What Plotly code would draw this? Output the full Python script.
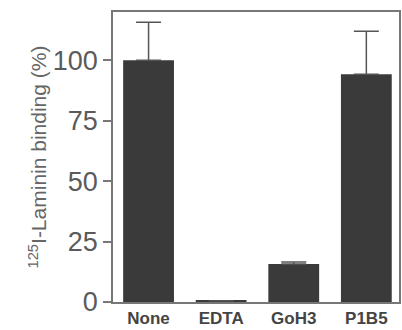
import plotly.graph_objects as go

categories = ["None", "EDTA", "GoH3", "P1B5"]
binding = [100, 0.5, 15.7, 94.2]
err_plus = [15.8, 0, 0.9, 17.8]
y_ticks = [0, 25, 50, 75, 100]

fig = go.Figure()
fig.add_trace(go.Bar(
    x=categories, y=binding,
    width=0.7,
    marker=dict(color="#3a3a3a", line=dict(width=0)),
    error_y=dict(type="data", array=err_plus, symmetric=False,
                 color="#555555", thickness=1.5, width=12.5),
))

fig.update_layout(
    width=402, height=330,
    margin=dict(l=113, r=1, t=12, b=28),
    paper_bgcolor="white", plot_bgcolor="white",
    showlegend=False,
    font=dict(family="Liberation Sans, Arial, sans-serif", color="#555555"),
)
fig.update_xaxes(
    range=[-0.49, 3.45],
    showline=True, mirror=True, linecolor="#777777", linewidth=1.5,
    ticks="", showgrid=False,
    tickfont=dict(size=17, color="#444444", family="Liberation Sans, Arial, sans-serif", weight="bold"),
)
fig.update_yaxes(
    range=[0, 120],
    tickvals=y_ticks,
    showline=True, mirror=True, linecolor="#777777", linewidth=1.5,
    ticks="outside", ticklen=8, tickcolor="#777777", tickwidth=1.5,
    showgrid=False, zeroline=False,
    tickfont=dict(size=27, color="#5a5a5a"),
    title=dict(text="<sup>125</sup>I-Laminin binding (%)", font=dict(size=21, color="#666666"), standoff=0),
)

fig.write_html("out.html", config={"displayModeBar": False},
               post_script="document.body.style.margin='0';")
